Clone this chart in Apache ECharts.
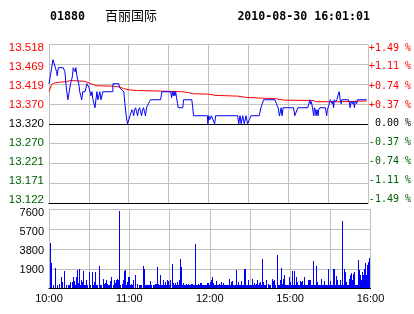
<!DOCTYPE html>
<html><head><meta charset="utf-8">
<script src="https://cdn.jsdelivr.net/npm/echarts@6/dist/echarts.min.js"></script>
<style>html,body{margin:0;padding:0;background:#fff}#c{width:414px;height:314px}</style>
</head><body><div id="c"></div>
<script>
// ---- header texts ----
const stockCode = '01880';
const stockName = '百丽国际';
const stamp = '2010-08-30 16:01:01';

// ---- tick labels ----
const priceTickLabels = ['13.122','13.171','13.221','13.270','13.320','13.370','13.419','13.469','13.518'];
const pctTickLabels = ['-1.49 %','-1.11 %','-0.74 %','-0.37 %',' 0.00 %','+0.37 %','+0.74 %','+1.11 %','+1.49 %'];
const volTickLabels = ['', '1900', '3800', '5700', '7600'];
const timeTickMinutes = [0, 60, 120, 180, 240];
const timeTickLabels = ['10:00', '11:00', '12:00', '15:00', '16:00'];
const prevClose = 13.32;

// ---- price line: [minute since 10:00 (trading minutes), price] ----
const priceLine = [
 [0,13.42],[1,13.44],[2,13.46],[3,13.48],[4.5,13.48],[5.7,13.45],[6.2,13.44],[7,13.46],[10.7,13.46],[12,13.45],
 [12.7,13.42],[13.4,13.40],[14.2,13.38],[15.2,13.40],[16.2,13.42],[17,13.43],[17.7,13.44],[18.2,13.46],[19,13.46],
 [19.7,13.45],[20.2,13.46],[21,13.44],[21.6,13.43],[22.4,13.42],[23.1,13.40],[23.9,13.39],[24.6,13.38],[25.4,13.40],
 [27.1,13.40],[28.6,13.42],[29.4,13.42],[30.1,13.41],[30.9,13.40],[31.6,13.39],[32.3,13.40],[33.1,13.38],[33.8,13.38],
 [34.6,13.36],[35.3,13.38],[36.1,13.40],[36.8,13.38],[37.6,13.38],[38.3,13.40],[39.1,13.38],[39.8,13.38],[40.6,13.40],
 [48.1,13.40],[48.1,13.42],[52.6,13.42],[53.1,13.41],[54.4,13.41],[56.3,13.40],[57.1,13.37],[58.1,13.34],[59.1,13.32],
 [60.1,13.33],[61,13.34],[61.6,13.34],[62.4,13.355],[63.2,13.35],[63.7,13.34],[64.4,13.355],[65.2,13.36],[65.9,13.35],
 [66.7,13.34],[67.4,13.355],[68.2,13.36],[68.9,13.35],[69.7,13.34],[70.4,13.355],[71.1,13.36],[71.9,13.35],[72.6,13.34],
 [73.4,13.36],[74.1,13.36],[74.9,13.37],[75.6,13.375],[76.4,13.38],[84,13.38],[84.5,13.39],[85,13.40],[91.5,13.40],
 [92.3,13.385],[92.8,13.40],[93.5,13.39],[94,13.40],[94.8,13.39],[95.3,13.40],[96,13.385],[96.8,13.37],[97.3,13.36],
 [100.7,13.36],[101.3,13.38],[107.5,13.38],[108.2,13.36],[108.8,13.34],[119.2,13.34],[119.6,13.32],[120.2,13.34],
 [121,13.33],[122.2,13.34],[123.4,13.33],[124.7,13.32],[125.4,13.34],[142,13.34],[142.8,13.32],[143.8,13.34],
 [144.6,13.32],[145.8,13.34],[147,13.32],[148.3,13.34],[149.5,13.32],[150.8,13.33],[152,13.34],[158.2,13.34],
 [159.5,13.36],[160.5,13.37],[161.5,13.38],[170,13.38],[170.4,13.376],[171.2,13.37],[172,13.37],[172.5,13.36],
 [173.4,13.34],[174.2,13.35],[174.7,13.36],[175.4,13.34],[176.2,13.36],[184,13.36],[185,13.34],[186.4,13.34],
 [187.3,13.36],[194.8,13.36],[195.6,13.37],[196.3,13.38],[196.8,13.37],[197.5,13.375],[198.3,13.36],[199.3,13.34],
 [199.8,13.36],[200.5,13.355],[201,13.34],[201.8,13.355],[202.5,13.34],[203,13.355],[203.8,13.36],[208,13.36],
 [209,13.34],[209.5,13.355],[210,13.36],[211,13.37],[211.7,13.38],[212.5,13.375],[213.2,13.37],[213.7,13.376],
 [214.2,13.36],[214.7,13.38],[215.5,13.375],[216,13.376],[216.7,13.38],[217.5,13.39],[218.4,13.40],[219.2,13.38],
 [219.9,13.37],[220.4,13.38],[225.4,13.38],[225.9,13.375],[226.7,13.36],[227.4,13.376],[228.4,13.37],[229.1,13.376],
 [229.9,13.36],[230.4,13.376],[231.1,13.38],[231.6,13.37],[232.1,13.38],[239.1,13.38]
];

// ---- average price line ----
const avgLine = [
 [0,13.40],[2,13.418],[4,13.422],[8,13.424],[13,13.425],[16,13.428],[22,13.427],[27,13.426],[30,13.422],[33,13.418],
 [36,13.415],[48,13.414],[53,13.412],[56,13.408],[60,13.405],[66,13.403],[80,13.402],[90,13.401],[100,13.400],
 [105,13.398],[108,13.395],[120,13.394],[125,13.391],[142,13.389],[148,13.386],[160,13.384],[170,13.383],[177,13.379],
 [199,13.378],[201,13.375],[220,13.375],[239.1,13.377]
];

// ---- volume bars: [minute, shares] ----
const volumeBars = [
 [0.75,4390],[1.5,2470],[2.2,640],[3,320],[4.5,320],[5.2,1950],[6.2,320],[7.7,480],[9,1120],[9.7,320],[10.4,640],
 [11.9,1700],[12.7,320],[13.4,320],[14.2,320],[15.2,320],[15.9,640],[17.4,640],[18.2,1060],[19.2,700],[19.9,320],
 [20.6,1060],[21.4,1760],[22.1,545],[22.9,1860],[23.6,320],[24.4,865],[25.1,580],[25.9,1700],[26.6,320],[27.4,320],
 [28.1,800],[29.1,320],[29.9,320],[30.6,1600],[31.3,320],[32.3,1600],[33.1,320],[33.8,640],[34.6,1600],[35.3,320],
 [36.1,320],[37.6,2150],[38.3,320],[39.1,320],[40.5,960],[41.3,480],[42,545],[43,800],[43.8,480],[44.5,320],
 [45.3,320],[46,740],[47,1060],[48,320],[48.8,865],[49.5,545],[50.5,800],[51.2,960],[52,800],[52.5,1120],[53,7440],
 [53.7,320],[54.5,480],[55.5,800],[56.2,1670],[57,1760],[58,320],[58.7,640],[59.5,1060],[60.2,1060],[60.9,320],
 [61.7,480],[62.4,320],[63.2,800],[64.2,1280],[64.9,320],[65.7,320],[66.4,480],[67.5,320],[68.3,320],[69.1,320],
 [70.4,2150],[71.1,1830],[71.8,320],[72.8,320],[73.6,320],[74.6,320],[75.3,320],[76.1,740],[76.8,320],[77.8,320],
 [78.6,320],[79.3,480],[80.1,480],[80.8,2080],[81.5,480],[82.3,320],[83,1280],[84,320],[84.8,320],[85.5,865],
 [86.3,320],[87,640],[87.8,320],[88.5,865],[89.3,740],[90.3,320],[91,800],[92,2340],[92.7,545],[93.5,320],[94.2,545],
 [95,320],[95.7,640],[96.5,320],[97.2,800],[98,2820],[98.7,2080],[99.5,320],[100.2,545],[101,320],[101.7,320],
 [102.4,480],[103.2,320],[103.9,480],[104.7,320],[105.4,320],[106.2,480],[106.9,480],[107.7,320],[108.4,320],
 [109.2,4270],[109.9,320],[110.6,320],[111.4,480],[112.1,320],[112.9,545],[113.6,545],[114.4,320],[115.1,320],
 [115.9,320],[116.6,320],[117.4,320],[118.1,545],[118.9,545],[119.6,320],[120.4,640],[121.1,800],[121.8,1060],
 [122.6,545],[123.3,320],[124.1,320],[124.8,740],[125.6,320],[126.3,320],[127.1,480],[127.8,320],[128.6,640],
 [129.3,320],[130.1,545],[130.8,320],[131.5,320],[132.3,320],[133,320],[133.8,320],[134.5,900],[135.3,320],[136,640],
 [136.8,740],[137.5,320],[138.3,320],[139,320],[139.8,1760],[140.5,320],[141.2,640],[142,320],[142.7,320],[143.5,740],
 [144.2,320],[145,320],[145.7,1920],[146.5,1920],[147.2,320],[148,320],[148.7,800],[149.5,320],[150.2,320],[151,320],
 [151.7,960],[152.4,320],[153.2,545],[153.9,320],[154.7,480],[155.4,800],[156.2,320],[156.9,545],[157.7,640],
 [158.4,320],[159.2,2790],[160,640],[160.7,320],[161.5,320],[162.5,800],[163.5,480],[164.5,320],[165.5,320],
 [166.5,960],[167.5,740],[168.4,865],[169.4,320],[170.4,3210],[171.2,320],[171.9,320],[172.7,800],[173.4,1990],
 [174.2,480],[174.9,960],[175.7,1280],[176.4,320],[177.2,320],[177.9,320],[178.6,320],[179.4,1060],[180.1,640],
 [180.9,320],[181.6,1700],[182.4,320],[183.1,1700],[183.9,320],[184.6,1060],[185.4,640],[186.1,320],[186.9,320],
 [187.6,740],[188.3,640],[189.1,740],[189.8,320],[190.6,1060],[191.3,320],[192.1,320],[192.8,320],[193.6,800],
 [194.3,865],[195.1,800],[195.8,320],[196.6,320],[197.3,2660],[198.1,320],[198.8,320],[199.5,2150],[200.3,640],
 [201,320],[201.8,320],[202.5,320],[203.3,960],[204,320],[204.8,320],[205.5,740],[206.3,320],[207,320],[207.7,320],
 [208.5,1920],[209.2,320],[210,740],[210.7,320],[211.5,320],[212.2,1860],[213,1860],[213.7,320],[214.5,1190],
 [215.2,800],[215.9,320],[216.7,320],[217.5,800],[218.2,320],[218.9,6480],[219.7,320],[220.4,1920],[221.2,1600],
 [221.9,640],[222.7,320],[223.4,320],[224.2,960],[224.9,1280],[225.7,1510],[226.4,800],[227.2,1440],[227.9,1600],
 [228.6,320],[229.4,320],[230.1,320],[230.9,2730],[231.6,1760],[232.4,1280],[233.1,800],[233.9,1600],[234.6,1280],
 [235.4,1830],[236.1,2470],[236.9,1280],[237.6,2250],[238.3,2570],[239.1,2890]
];

const GRID = '#c0c0c0';
const RED = '#ff0000';
const GREEN = '#006000';
const priceMin = parseFloat(priceTickLabels[0]);
const priceMax = parseFloat(priceTickLabels[priceTickLabels.length - 1]);
const volMax = parseFloat(volTickLabels[volTickLabels.length - 1]);
const volStep = parseFloat(volTickLabels[1]);
const sideColor = v => (v > 0 ? RED : v < 0 ? GREEN : '#000');

// label vertical nudges (labels in the reference sit slightly inside the panel)
const sideShift = [-3.3, -2.45, -1.6, -0.75, 0.1, 0.95, 1.8, 2.65, 3.5]; // by tick index from bottom
const volShift = [0, 1.3, 2, 2.5, 3.2];
function shiftStyles(shifts, extra) {
  const r = {};
  shifts.forEach((s, i) => {
    const p = Math.round(Math.abs(s) * 2);
    r['s' + i] = Object.assign({padding: s >= 0 ? [p, 0, 0, 0] : [0, 0, p, 0]}, extra || {});
  });
  return r;
}
const leftRich = {};
const rightRich = {};
sideShift.forEach((s, i) => {
  const p = Math.round(Math.abs(s) * 2);
  const pad = s >= 0 ? [p, 0, 0, 0] : [0, 0, p, 0];
  const c = i > 4 ? RED : i < 4 ? GREEN : '#000';
  leftRich['s' + i] = {padding: pad, color: c, fontSize: 11.5, fontFamily: 'Liberation Sans'};
  rightRich['s' + i] = {padding: pad, color: c, fontSize: 10, fontFamily: 'DejaVu Sans Mono'};
});
const volRich = shiftStyles(volShift, {color: '#000', fontSize: 11, fontFamily: 'Liberation Sans'});

const chart = echarts.init(document.getElementById('c'), null, {renderer: 'canvas', width: 414, height: 314});
chart.setOption({
  animation: false,
  backgroundColor: '#fff',
  graphic: [
    {type: 'text', x: 50, y: 16.5, style: {text: stockCode, font: 'bold 11.6px "DejaVu Sans Mono"', fill: '#000', align: 'left', verticalAlign: 'middle'}},
    {type: 'text', x: 105, y: 15.5, style: {text: stockName, font: '13px "Noto Sans CJK SC"', fill: '#000', align: 'left', verticalAlign: 'middle'}},
    {type: 'text', x: 370, y: 16.5, style: {text: stamp, font: 'bold 11.6px "DejaVu Sans Mono"', fill: '#000', align: 'right', verticalAlign: 'middle'}}
  ],
  grid: [
    {left: 49, top: 44.5, width: 321.5, height: 158.5},
    {left: 49, top: 209.5, width: 321.5, height: 79}
  ],
  xAxis: [
    {type: 'value', gridIndex: 0, min: 0, max: 240, interval: 30,
     axisLabel: {show: false}, axisTick: {show: false},
     axisLine: {show: true, onZero: false, lineStyle: {color: '#000', width: 1}},
     splitLine: {show: true, lineStyle: {color: GRID, width: 1}}},
    {type: 'value', gridIndex: 1, min: 0, max: 240, interval: 30,
     axisTick: {show: false},
     axisLine: {show: true, onZero: false, lineStyle: {color: '#000', width: 1}},
     splitLine: {show: true, lineStyle: {color: GRID, width: 1}},
     axisLabel: {show: true, margin: 5, fontSize: 11, fontFamily: 'Liberation Sans', color: '#000',
       showMinLabel: true, showMaxLabel: true,
       formatter: v => { const i = timeTickMinutes.indexOf(Math.round(v)); return i >= 0 ? timeTickLabels[i] : ''; }}}
  ],
  yAxis: [
    {type: 'value', gridIndex: 0, position: 'left', min: -4, max: 4, interval: 1,
     axisLine: {show: false}, axisTick: {show: false},
     splitLine: {show: true, showMinLine: false, lineStyle: {color: GRID, width: 1}},
     axisLabel: {margin: 5, rich: leftRich,
       formatter: v => { const i = Math.round(v) + 4; return '{s' + i + '|' + priceTickLabels[i] + '}'; }}},
    {type: 'value', gridIndex: 0, position: 'right', min: -4, max: 4, interval: 1,
     axisLine: {show: false}, axisTick: {show: false}, splitLine: {show: false},
     axisLabel: {margin: 1, rich: rightRich,
       formatter: v => { const i = Math.round(v) + 4; return '{s' + i + '|' + pctTickLabels[i] + '}'; }}},
    {type: 'value', gridIndex: 0, min: priceMin, max: priceMax, show: false,
     splitLine: {show: false}},
    {type: 'value', gridIndex: 1, min: 0, max: volMax, interval: volStep,
     axisLine: {show: false}, axisTick: {show: false},
     splitLine: {show: true, showMinLine: false, lineStyle: {color: GRID, width: 1}},
     axisLabel: {margin: 5, rich: volRich,
       formatter: v => { const i = Math.round(v / volStep); return volTickLabels[i] ? '{s' + i + '|' + volTickLabels[i] + '}' : ''; }}}
  ],
  series: [
    {type: 'line', name: 'avg', xAxisIndex: 0, yAxisIndex: 2, data: avgLine, showSymbol: false, symbol: 'none',
     lineStyle: {color: RED, width: 1}, silent: true, z: 3},
    {type: 'line', name: 'price', xAxisIndex: 0, yAxisIndex: 2, data: priceLine, showSymbol: false, symbol: 'none',
     lineStyle: {color: '#0000ff', width: 1}, silent: true, z: 4,
     markLine: {silent: true, symbol: 'none', label: {show: false},
       lineStyle: {color: '#000', width: 1, type: 'solid'}, data: [{yAxis: prevClose}]}},
    {type: 'custom', name: 'vol', xAxisIndex: 1, yAxisIndex: 3, data: volumeBars, silent: true,
     encode: {x: 0, y: 1},
     renderItem: (params, api) => {
       const top = api.coord([api.value(0), api.value(1)]);
       const base = api.coord([api.value(0), 0]);
       const x = Math.floor(top[0]);
       const y0 = Math.round(top[1]);
       const y1 = Math.floor(base[1]);
       return {type: 'rect', shape: {x: x, y: y0, width: 1, height: Math.max(1, y1 - y0)},
               style: {fill: '#0000ff'}};
     }}
  ]
});
</script>
</body></html>
